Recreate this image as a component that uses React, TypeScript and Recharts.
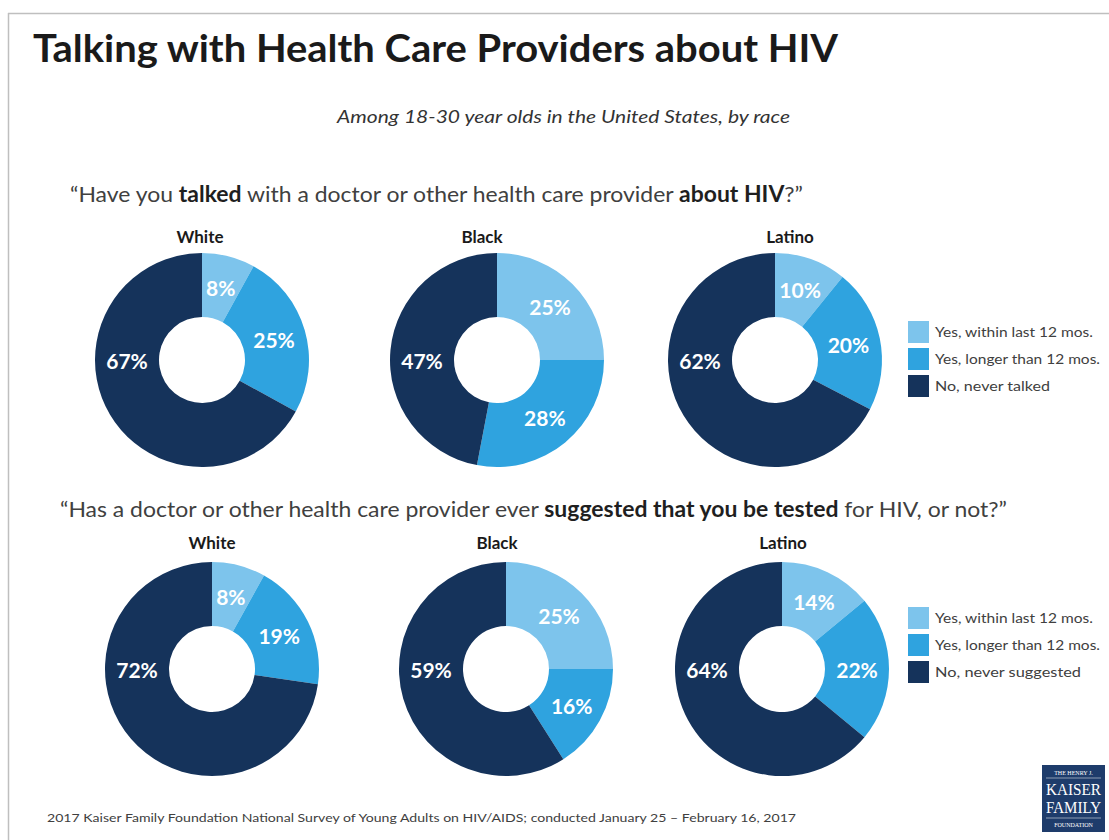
import { PieChart, Pie, Cell } from 'recharts';

const categories = ['Yes, within last 12 mos.', 'Yes, longer than 12 mos.', 'No'];
const races = ['White', 'Black', 'Latino'];

const talkedWhite = [8, 25, 67];
const talkedBlack = [25, 28, 47];
const talkedLatino = [10, 20, 62];

const suggestedWhite = [8, 19, 72];
const suggestedBlack = [25, 16, 59];
const suggestedLatino = [14, 22, 64];

const legendTalked = ['Yes, within last 12 mos.', 'Yes, longer than 12 mos.', 'No, never talked'];
const legendSuggested = ['Yes, within last 12 mos.', 'Yes, longer than 12 mos.', 'No, never suggested'];

const COLORS = ['#7DC4EC', '#2FA3DF', '#15335B'];
const RADIAN = Math.PI / 180;
const FONT = 'Lato, "Open Sans", sans-serif';

const toData = (values: number[]) =>
  categories.map((name, i) => ({ name, value: values[i] }));

const rows = [
  { cy: 360, centers: [202, 497, 775], labelX: [200, 482, 790], series: [talkedWhite, talkedBlack, talkedLatino] },
  { cy: 669, centers: [212, 506, 782], labelX: [212, 497, 783], series: [suggestedWhite, suggestedBlack, suggestedLatino] },
];

// labels sit in the middle of the ring; the big "No" slice gets its label on the left side
const renderLabel = (props: any) => {
  const { cx, cy, midAngle, innerRadius, outerRadius, value, index } = props;
  const r = (innerRadius + outerRadius) / 2;
  const angle = index === 2 ? 180 : midAngle;
  const x = cx + r * Math.cos(-angle * RADIAN);
  const y = cy + r * Math.sin(-angle * RADIAN);
  return (
    <text
      x={x}
      y={y}
      fill="#fff"
      textAnchor="middle"
      dominantBaseline="central"
      fontFamily={FONT}
      fontWeight={700}
      fontSize={21}
    >
      {value}%
    </text>
  );
};

function Legend({ top, labels, widths }: { top: number; labels: string[]; widths: number[] }) {
  const ys = [0, 27, 54];
  return (
    <g>
      {labels.map((l, i) => (
        <g key={l}>
          <rect x={908} y={top + ys[i]} width={21} height={22} fill={COLORS[i]} />
          <text
            x={935}
            y={top + ys[i] + 16}
            fontFamily={FONT}
            fontSize={13}
            fill="#404040"
            textLength={widths[i]}
            lengthAdjust="spacingAndGlyphs"
          >
            {l}
          </text>
        </g>
      ))}
    </g>
  );
}

export default function App() {
  return (
    <div style={{ position: 'absolute', left: 0, top: 0, width: 1109, height: 840, background: '#fff' }}>
      <div style={{ position: 'absolute', left: 0, top: 0 }}>
        <PieChart width={1109} height={840} margin={{ top: 0, right: 0, bottom: 0, left: 0 }}>
          {rows.map((row, ri) =>
            row.series.map((vals, i) => (
              <Pie
                key={`${ri}-${i}`}
                data={toData(vals)}
                dataKey="value"
                nameKey="name"
                cx={row.centers[i]}
                cy={row.cy}
                innerRadius={43}
                outerRadius={107}
                startAngle={90}
                endAngle={-270}
                stroke="none"
                label={renderLabel}
                labelLine={false}
                isAnimationActive={false}
              >
                {vals.map((_, j) => (
                  <Cell key={j} fill={COLORS[j]} />
                ))}
              </Pie>
            ))
          )}
        </PieChart>
      </div>
      <svg
        width={1109}
        height={840}
        style={{ position: 'absolute', left: 0, top: 0, pointerEvents: 'none' }}
      >
        <line x1={8.5} y1={13} x2={8.5} y2={840} stroke="#BFBFBF" strokeWidth={1.5} />
        <line x1={8} y1={13.5} x2={1109} y2={13.5} stroke="#BFBFBF" strokeWidth={1.5} />

        <text x={33} y={62} fontFamily={FONT} fontWeight={700} fontSize={38} fill="#1a1a1a" textLength={805} lengthAdjust="spacingAndGlyphs">
          Talking with Health Care Providers about HIV
        </text>
        <text x={337} y={123} fontFamily={FONT} fontStyle="italic" fontSize={17} fill="#333" textLength={453} lengthAdjust="spacingAndGlyphs">
          Among 18-30 year olds in the United States, by race
        </text>

        <text x={70} y={202} fontFamily={FONT} fontSize={22} fill="#404040" textLength={733} lengthAdjust="spacingAndGlyphs">
          “Have you <tspan fontWeight={700} fill="#1f1f1f">talked</tspan> with a doctor or other health care provider{' '}
          <tspan fontWeight={700} fill="#1f1f1f">about HIV</tspan>?”
        </text>
        <text x={60} y={517} fontFamily={FONT} fontSize={22} fill="#404040" textLength={947} lengthAdjust="spacingAndGlyphs">
          “Has a doctor or other health care provider ever{' '}
          <tspan fontWeight={700} fill="#1f1f1f">suggested that you be tested</tspan> for HIV, or not?”
        </text>

        {rows.map((row, ri) =>
          races.map((race, i) => (
            <text
              key={`${ri}-${race}`}
              x={row.labelX[i]}
              y={ri === 0 ? 243 : 549}
              textAnchor="middle"
              fontFamily={FONT}
              fontWeight={700}
              fontSize={17}
              fill="#1a1a1a"
            >
              {race}
            </text>
          ))
        )}

        <Legend top={321} labels={legendTalked} widths={[158, 165, 115]} />
        <Legend top={607} labels={legendSuggested} widths={[158, 165, 146]} />

        <text x={47} y={822} fontFamily={FONT} fontSize={11} fill="#404040" textLength={749} lengthAdjust="spacingAndGlyphs">
          2017 Kaiser Family Foundation National Survey of Young Adults on HIV/AIDS; conducted January 25 – February 16, 2017
        </text>

        <rect x={1042} y={765} width={63} height={67} fill="#1E3C6B" />
        <text x={1073.5} y={775} textAnchor="middle" fontFamily="Liberation Serif, serif" fontSize={6} fill="#fff">
          THE HENRY J.
        </text>
        <line x1={1046} y1={778} x2={1101} y2={778} stroke="#fff" strokeWidth={0.5} />
        <text x={1046} y={795} fontFamily="Liberation Serif, serif" fontSize={17} fill="#fff" textLength={55} lengthAdjust="spacingAndGlyphs">
          KAISER
        </text>
        <text x={1046} y={813} fontFamily="Liberation Serif, serif" fontSize={17} fill="#fff" textLength={55} lengthAdjust="spacingAndGlyphs">
          FAMILY
        </text>
        <line x1={1046} y1={818} x2={1101} y2={818} stroke="#fff" strokeWidth={0.5} />
        <text x={1073.5} y={827} textAnchor="middle" fontFamily="Liberation Serif, serif" fontSize={6} fill="#fff">
          FOUNDATION
        </text>
      </svg>
    </div>
  );
}
